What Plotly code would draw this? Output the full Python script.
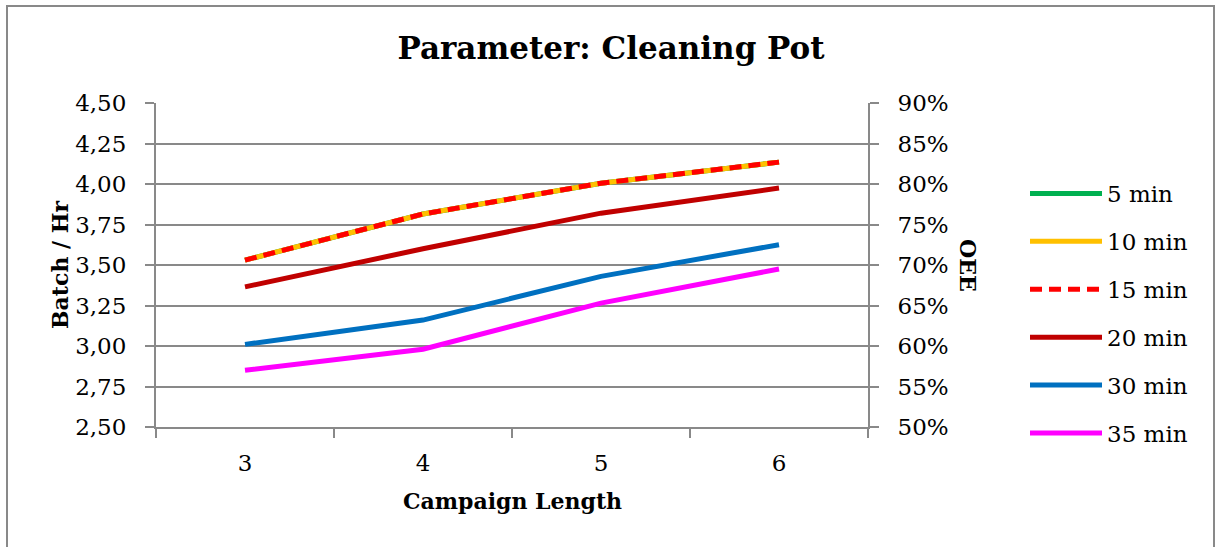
import plotly.graph_objects as go

categories = ["3", "4", "5", "6"]
series_names = ["5 min", "10 min", "15 min", "20 min", "30 min", "35 min"]
five_min = [3.53, 3.815, 4.005, 4.135]
ten_min = [3.53, 3.815, 4.005, 4.135]
fifteen_min = [3.53, 3.815, 4.005, 4.135]
twenty_min = [3.365, 3.60, 3.82, 3.975]
thirty_min = [3.01, 3.16, 3.43, 3.625]
thirtyfive_min = [2.85, 2.98, 3.265, 3.475]

y_ticks = [2.50, 2.75, 3.00, 3.25, 3.50, 3.75, 4.00, 4.25, 4.50]
oee_ticks = [0.50, 0.55, 0.60, 0.65, 0.70, 0.75, 0.80, 0.85, 0.90]

series_values = [five_min, ten_min, fifteen_min, twenty_min, thirty_min, thirtyfive_min]
colors = ["#00B050", "#FFC000", "#FF0000", "#C00000", "#0070C0", "#FF00FF"]
dashes = ["solid", "solid", "12px,7px", "solid", "solid", "solid"]

FONT = "DejaVu Serif"
GRAY = "#898989"

fig = go.Figure()
for name, vals, col, dsh in zip(series_names, series_values, colors, dashes):
    fig.add_trace(go.Scatter(
        x=categories, y=vals, name=name, mode="lines",
        line=dict(color=col, width=5, dash=dsh),
        legendgroup=name,
    ))

# empty trace so that the secondary (OEE) axis is drawn
fig.add_trace(go.Scatter(
    x=categories, y=[None] * len(categories), yaxis="y2", mode="lines",
    showlegend=False, hoverinfo="skip", opacity=0,
))

fig.update_layout(
    width=1222, height=547,
    margin=dict(l=156, r=354, t=103, b=120),
    paper_bgcolor="white", plot_bgcolor="white",
    separators=",.",
    font=dict(family=FONT, size=23, color="#000000"),
    title=dict(text="<b>Parameter: Cleaning Pot</b>", x=611 / 1222, xanchor="center",
               y=1 - 48 / 547, yanchor="middle", yref="container",
               font=dict(family=FONT, size=31, color="#000000")),
    xaxis=dict(type="category", range=[-0.5, 3.5], tickson="boundaries",
               ticks="outside", ticklen=9, tickwidth=2, tickcolor=GRAY,
               showline=True, linecolor=GRAY, linewidth=2, showgrid=False,
               ticklabelstandoff=14, zeroline=False),
    yaxis=dict(range=[2.5, 4.5], tickvals=y_ticks, tickformat=".2f",
               ticks="outside", ticklen=9, tickwidth=2, tickcolor=GRAY,
               showline=True, linecolor=GRAY, linewidth=2,
               showgrid=True, gridcolor=GRAY, gridwidth=2,
               ticklabelstandoff=14, zeroline=False),
    yaxis2=dict(range=[0.5, 0.9], tickvals=oee_ticks, tickformat=".0%",
                overlaying="y", side="right",
                ticks="outside", ticklen=9, tickwidth=2, tickcolor=GRAY,
                showline=True, linecolor=GRAY, linewidth=2,
                showgrid=False, ticklabelstandoff=14, zeroline=False),
    legend=dict(x=(1025 - 156) / 712, xanchor="left",
                y=(427 - 172) / 324, yanchor="top",
                tracegroupgap=15, itemwidth=72, bgcolor="rgba(0,0,0,0)",
                font=dict(family=FONT, size=23)),
    showlegend=True,
)

annotations = [
    dict(text="<b>Batch / Hr</b>", x=(60 - 156) / 712, y=(427 - 265) / 324,
         xref="paper", yref="paper", xanchor="center", yanchor="middle",
         textangle=-90, showarrow=False, font=dict(family=FONT, size=22)),
    dict(text="<b>OEE</b>", x=(968 - 156) / 712, y=(427 - 265) / 324,
         xref="paper", yref="paper", xanchor="center", yanchor="middle",
         textangle=90, showarrow=False, font=dict(family=FONT, size=22)),
    dict(text="<b>Campaign Length</b>", x=(512 - 156) / 712, y=(427 - 501) / 324,
         xref="paper", yref="paper", xanchor="center", yanchor="middle",
         showarrow=False, font=dict(family=FONT, size=22)),
]
fig.update_layout(annotations=annotations)

fig.add_shape(type="rect", xref="paper", yref="paper",
              x0=(7 - 156) / 712, x1=(1214 - 156) / 712,
              y0=(427 - 560) / 324, y1=(427 - 6) / 324,
              line=dict(color=GRAY, width=2), fillcolor="rgba(0,0,0,0)", layer="below")

fig.write_html("out.html")
